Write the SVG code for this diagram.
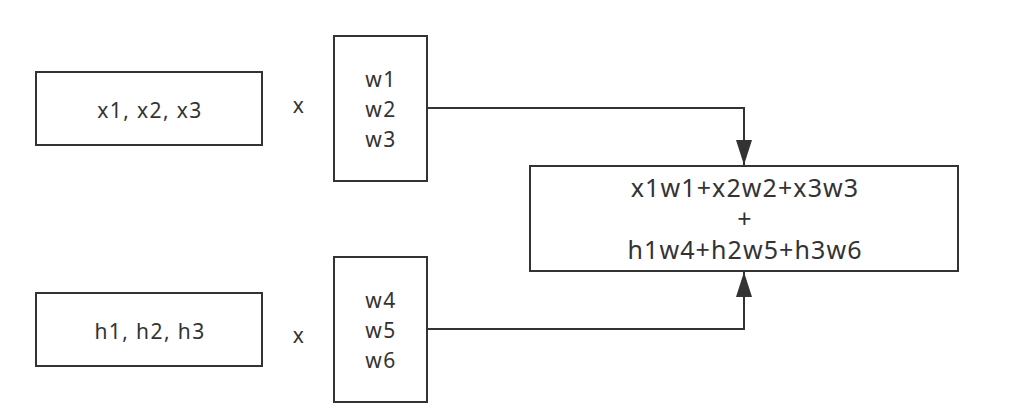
<svg xmlns="http://www.w3.org/2000/svg" width="1014" height="416" viewBox="0 0 1014 416">
<style>
.box{fill:#fff;stroke:#333;stroke-width:2}
.t{font-family:"Noto Sans","Open Sans",sans-serif;fill:#333;text-anchor:middle}
.s{font-size:21px;letter-spacing:1.4px}
.b{font-size:25px;letter-spacing:1.1px}
.edge{fill:none;stroke:#333;stroke-width:2}
</style>
<defs>
<marker id="ah" viewBox="0 0 25 16" refX="25" refY="8" markerWidth="25" markerHeight="16" markerUnits="userSpaceOnUse" orient="auto">
<path d="M0,0 L25,8 L0,16 Z" fill="#333"/>
</marker>
</defs>
<rect width="1014" height="416" fill="#fff"/>
<g id="connectors">
<path class="edge" d="M427,108 H744 V165" marker-end="url(#ah)"/>
<path class="edge" d="M427,329 H744 V272" marker-end="url(#ah)"/>
</g>
<g id="inputX">
<rect class="box" x="36" y="72" width="226" height="73"/>
<text class="t s" x="150" y="118">x1, x2, x3</text>
</g>
<g id="times1"><text class="t s" x="299" y="113">x</text></g>
<g id="weightsW123">
<rect class="box" x="334" y="36" width="93" height="145"/>
<text class="t s" x="381" y="87">w1</text>
<text class="t s" x="381" y="117">w2</text>
<text class="t s" x="381" y="147">w3</text>
</g>
<g id="inputH">
<rect class="box" x="36" y="293" width="226" height="73"/>
<text class="t s" x="150" y="339">h1, h2, h3</text>
</g>
<g id="times2"><text class="t s" x="299" y="343">x</text></g>
<g id="weightsW456">
<rect class="box" x="334" y="257" width="93" height="145"/>
<text class="t s" x="381" y="308">w4</text>
<text class="t s" x="381" y="338">w5</text>
<text class="t s" x="381" y="368">w6</text>
</g>
<g id="sum">
<rect class="box" x="530" y="166" width="428" height="105"/>
<text class="t b" x="745" y="197">x1w1+x2w2+x3w3</text>
<text class="t b" x="745" y="228">+</text>
<text class="t b" x="745" y="259">h1w4+h2w5+h3w6</text>
</g>
</svg>
